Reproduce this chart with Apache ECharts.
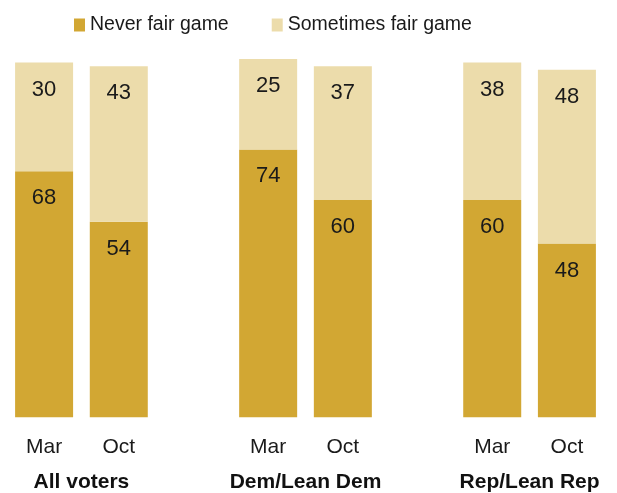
<!DOCTYPE html>
<html>
<head>
<meta charset="utf-8">
<script src="https://cdn.jsdelivr.net/npm/echarts@6/dist/echarts.min.js"></script>
<style>
  html, body { margin: 0; padding: 0; background: #fff; }
  #chart { width: 617px; height: 493px; }
</style>
</head>
<body>
<div id="chart"></div>
<script>
// Month slots; empty strings leave a gap between the three voter groups
const months = ['Mar', 'Oct', '', 'Mar', 'Oct', '', 'Mar', 'Oct'];
// Group titles sit on the boundaries between the slots above
const groups = ['', 'All voters', '', '', 'Dem/Lean Dem', '', '', 'Rep/Lean Rep', ''];
const neverFair = [68, 54, null, 74, 60, null, 60, 48];
const sometimesFair = [30, 43, null, 25, 37, null, 38, 48];

const FONT = '"Liberation Sans", Arial, sans-serif';
const NEVER_COLOR = '#D2A733';
const SOMETIMES_COLOR = '#ECDCAB';

const chart = echarts.init(document.getElementById('chart'));

const valueLabel = {
  show: true,
  position: 'insideTop',
  distance: 16,
  fontFamily: FONT,
  fontSize: 22,
  color: '#1a1a1a',
  formatter: p => (p.value == null ? '' : String(p.value))
};

chart.setOption({
  animation: false,
  legend: {
    left: 69,
    top: 10,
    icon: 'rect',
    itemWidth: 11,
    itemHeight: 13,
    itemGap: 43,
    textStyle: { fontFamily: FONT, fontSize: 19.5, color: '#1a1a1a' },
    data: ['Never fair game', 'Sometimes fair game']
  },
  grid: { left: 6.75, right: 12.75, top: 55.3, height: 362 },
  xAxis: [
    {
      type: 'category',
      data: months,
      axisLine: { show: false },
      axisTick: { show: false },
      axisLabel: {
        interval: 0,
        margin: 19,
        fontFamily: FONT,
        fontSize: 21,
        color: '#1a1a1a'
      }
    },
    {
      type: 'category',
      data: groups,
      boundaryGap: false,
      position: 'bottom',
      axisLine: { show: false },
      axisTick: { show: false },
      axisLabel: {
        interval: 0,
        margin: 54,
        fontFamily: FONT,
        fontSize: 21,
        fontWeight: 'bold',
        color: '#111'
      }
    }
  ],
  yAxis: { type: 'value', min: 0, max: 100, show: false },
  series: [
    {
      name: 'Never fair game',
      type: 'bar',
      stack: 'total',
      barWidth: 58,
      itemStyle: { color: NEVER_COLOR },
      label: valueLabel,
      data: neverFair
    },
    {
      name: 'Sometimes fair game',
      type: 'bar',
      stack: 'total',
      barWidth: 58,
      itemStyle: { color: SOMETIMES_COLOR },
      label: valueLabel,
      data: sometimesFair
    }
  ]
});
</script>
</body>
</html>
